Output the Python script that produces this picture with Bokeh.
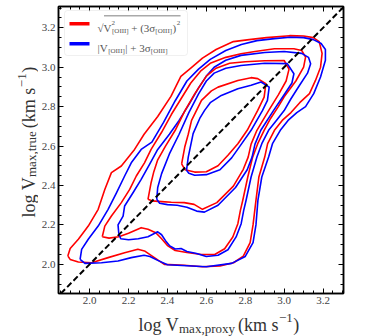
from math import pi
from bokeh.plotting import figure
from bokeh.layouts import row, column
from bokeh.models import (Range1d, FixedTicker, LinearAxis, Slope, Label, BoxAnnotation,
                          NumeralTickFormatter, CustomLabelingPolicy)
from bokeh.embed import file_html
from bokeh.resources import INLINE

# ---------------- data ----------------
major_ticks = [2.0, 2.2, 2.4, 2.6, 2.8, 3.0, 3.2]
tick_labels = ["2.0", "2.2", "2.4", "2.6", "2.8", "3.0", "3.2"]
minor_ticks = [1.85, 1.90, 1.95, 2.05, 2.10, 2.15, 2.25, 2.30, 2.35, 2.45, 2.50, 2.55,
               2.65, 2.70, 2.75, 2.85, 2.90, 2.95, 3.05, 3.10, 3.15, 3.25, 3.30]
x_limits = [1.840, 3.305]
y_limits = [1.852, 3.308]
one_to_one_gradient = 1.0
one_to_one_intercept = 0.0

# outer contour level
red_l1_x = [1.888, 1.900, 1.942, 1.993, 2.044, 2.078, 2.112, 2.163, 2.197, 2.231, 2.280, 2.350,
            2.418, 2.469, 2.520, 2.580, 2.650, 2.739, 2.820, 2.909, 3.028, 3.100, 3.150, 3.180,
            3.195, 3.187, 3.161, 3.130, 3.080, 3.035, 2.990, 2.950, 2.915, 2.900, 2.870, 2.855,
            2.840, 2.825, 2.790, 2.740, 2.670, 2.580, 2.486, 2.384, 2.333, 2.282, 2.248, 2.180,
            2.095, 2.010, 1.942, 1.900, 1.888]
red_l1_y = [2.042, 2.080, 2.127, 2.194, 2.279, 2.380, 2.465, 2.499, 2.541, 2.583, 2.660, 2.750,
            2.852, 2.953, 2.995, 3.046, 3.090, 3.130, 3.140, 3.150, 3.160, 3.158, 3.150, 3.130,
            3.070, 3.000, 2.933, 2.866, 2.820, 2.770, 2.730, 2.680, 2.612, 2.544, 2.443, 2.324,
            2.200, 2.110, 2.042, 2.008, 1.992, 1.988, 1.995, 2.000, 2.034, 2.068, 2.076, 2.059,
            2.034, 2.008, 2.012, 2.025, 2.042]
blue_l1_x = [1.951, 1.959, 1.993, 2.044, 2.095, 2.138, 2.180, 2.214, 2.265, 2.320, 2.380, 2.440,
             2.500, 2.560, 2.620, 2.700, 2.780, 2.860, 2.950, 3.030, 3.100, 3.150, 3.190, 3.212,
             3.212, 3.187, 3.152, 3.110, 3.065, 3.020, 2.980, 2.940, 2.920, 2.885, 2.865, 2.855,
             2.840, 2.800, 2.730, 2.600, 2.500, 2.400, 2.350, 2.310, 2.280, 2.214, 2.146, 2.061,
             1.976, 1.951]
blue_l1_y = [2.025, 2.076, 2.127, 2.194, 2.279, 2.363, 2.448, 2.515, 2.583, 2.620, 2.720, 2.830,
             2.930, 2.990, 3.040, 3.085, 3.115, 3.135, 3.145, 3.152, 3.150, 3.140, 3.120, 3.090,
             3.035, 2.950, 2.866, 2.800, 2.770, 2.730, 2.680, 2.612, 2.544, 2.443, 2.324, 2.200,
             2.110, 2.040, 2.005, 1.988, 1.993, 1.998, 2.020, 2.040, 2.046, 2.034, 2.017, 2.008,
             2.005, 2.025]

# second contour level
red_l2_x = [2.065, 2.078, 2.112, 2.163, 2.206, 2.240, 2.282, 2.316, 2.370, 2.420, 2.470, 2.520,
            2.570, 2.620, 2.700, 2.778, 2.850, 2.950, 3.050, 3.090, 3.110, 3.100, 3.060, 3.000,
            2.970, 2.930, 2.897, 2.864, 2.838, 2.813, 2.787, 2.775, 2.762, 2.736, 2.694, 2.643,
            2.575, 2.500, 2.440, 2.400, 2.370, 2.340, 2.300, 2.265, 2.200, 2.150, 2.100, 2.065]
red_l2_y = [2.140, 2.194, 2.245, 2.313, 2.380, 2.448, 2.515, 2.583, 2.670, 2.760, 2.840, 2.920,
            2.980, 3.020, 3.050, 3.068, 3.080, 3.094, 3.094, 3.085, 3.051, 3.000, 2.930, 2.850,
            2.800, 2.740, 2.680, 2.612, 2.544, 2.443, 2.324, 2.274, 2.206, 2.139, 2.079, 2.050,
            2.050, 2.060, 2.070, 2.095, 2.130, 2.160, 2.178, 2.186, 2.158, 2.140, 2.133, 2.140]
blue_l2_x = [2.150, 2.146, 2.172, 2.180, 2.223, 2.265, 2.308, 2.350, 2.410, 2.460, 2.510, 2.560,
             2.600, 2.640, 2.700, 2.778, 2.900, 3.000, 3.090, 3.125, 3.136, 3.120, 3.080, 3.035,
             3.000, 2.960, 2.920, 2.885, 2.860, 2.830, 2.804, 2.792, 2.779, 2.753, 2.711, 2.660,
             2.600, 2.550, 2.500, 2.470, 2.440, 2.410, 2.390, 2.370, 2.350, 2.300, 2.250, 2.200,
             2.160, 2.150]
blue_l2_y = [2.155, 2.200, 2.245, 2.296, 2.363, 2.431, 2.507, 2.583, 2.660, 2.730, 2.810, 2.895,
             2.955, 3.000, 3.035, 3.060, 3.075, 3.080, 3.070, 3.050, 3.018, 2.970, 2.910, 2.840,
             2.780, 2.730, 2.680, 2.612, 2.544, 2.443, 2.324, 2.274, 2.206, 2.139, 2.074, 2.046,
             2.040, 2.055, 2.065, 2.080, 2.078, 2.095, 2.120, 2.150, 2.165, 2.140, 2.130, 2.125,
             2.130, 2.155]

# third contour level
red_l3_x = [2.300, 2.316, 2.330, 2.350, 2.390, 2.440, 2.490, 2.540, 2.600, 2.650, 2.720, 2.800,
            2.900, 3.000, 3.025, 3.010, 2.970, 2.920, 2.860, 2.830, 2.815, 2.790, 2.739, 2.654,
            2.580, 2.537, 2.486, 2.420, 2.370, 2.320, 2.300]
red_l3_y = [2.330, 2.414, 2.470, 2.530, 2.600, 2.680, 2.780, 2.865, 2.955, 2.995, 3.020, 3.028,
            3.033, 3.034, 2.990, 2.930, 2.860, 2.780, 2.680, 2.610, 2.544, 2.482, 2.397, 2.313,
            2.279, 2.304, 2.313, 2.315, 2.318, 2.322, 2.330]
blue_l3_x = [2.345, 2.350, 2.370, 2.410, 2.460, 2.510, 2.560, 2.600, 2.640, 2.700, 2.778, 2.900,
             3.016, 3.050, 3.040, 3.000, 2.945, 2.880, 2.850, 2.835, 2.810, 2.750, 2.660, 2.590,
             2.550, 2.500, 2.450, 2.400, 2.360, 2.345]
blue_l3_y = [2.330, 2.390, 2.460, 2.560, 2.660, 2.770, 2.865, 2.930, 2.970, 2.995, 3.009, 3.020,
             3.018, 2.967, 2.920, 2.860, 2.780, 2.680, 2.610, 2.544, 2.480, 2.390, 2.300, 2.265,
             2.270, 2.290, 2.300, 2.303, 2.310, 2.330]

# innermost contour level
red_l4_x = [2.473, 2.489, 2.507, 2.524, 2.575, 2.626, 2.660, 2.762, 2.830, 2.864, 2.906, 2.897,
            2.864, 2.810, 2.762, 2.711, 2.660, 2.600, 2.540, 2.490, 2.473]
red_l4_y = [2.510, 2.595, 2.660, 2.730, 2.832, 2.880, 2.899, 2.933, 2.947, 2.942, 2.916, 2.848,
            2.781, 2.680, 2.612, 2.553, 2.500, 2.470, 2.468, 2.480, 2.510]
blue_l4_x = [2.498, 2.507, 2.532, 2.566, 2.591, 2.620, 2.677, 2.762, 2.830, 2.881, 2.923, 2.914,
             2.889, 2.830, 2.780, 2.730, 2.670, 2.600, 2.540, 2.510, 2.498]
blue_l4_y = [2.477, 2.544, 2.663, 2.740, 2.781, 2.820, 2.857, 2.891, 2.908, 2.925, 2.899, 2.832,
             2.781, 2.680, 2.610, 2.540, 2.480, 2.455, 2.452, 2.462, 2.477]

# ---------------- layout geometry (page pixels) ----------------
FONT = "Liberation Serif"
YLAB_W = 38                      # strip left of the main figure for the y label
TOTAL_H = 336
FRAME_LEFT, FRAME_TOP, FRAME_W, FRAME_H = 56, 6, 287, 287
FRAME_BOTTOM = FRAME_TOP + FRAME_H
MAIN_W = 315
MAIN_H = 308
XLAB_H = TOTAL_H - MAIN_H

p = figure(width=MAIN_W, height=MAIN_H, x_range=Range1d(*x_limits), y_range=Range1d(*y_limits),
           output_backend="svg", toolbar_location=None,
           min_border_left=FRAME_LEFT - YLAB_W,
           min_border_right=MAIN_W - (FRAME_LEFT - YLAB_W) - FRAME_W,
           min_border_top=FRAME_TOP, min_border_bottom=MAIN_H - FRAME_BOTTOM,
           background_fill_color="white", border_fill_color="white")
p.grid.visible = False
p.outline_line_color = "black"
p.outline_line_width = 1.5

p.add_layout(LinearAxis(), "above")
p.add_layout(LinearAxis(), "right")
overrides = {t: l for t, l in zip(major_ticks, tick_labels)}
for ax in p.axis:
    ax.ticker = FixedTicker(ticks=major_ticks, minor_ticks=minor_ticks)
    ax.formatter = NumeralTickFormatter(format="0.0")
    ax.major_label_overrides = overrides
    ax.major_tick_in = 5
    ax.major_tick_out = 0
    ax.minor_tick_in = 3
    ax.minor_tick_out = 0
    ax.major_tick_line_color = "black"
    ax.minor_tick_line_color = "black"
    ax.axis_line_color = "black"
    ax.axis_line_width = 1.5
    ax.major_label_text_font = FONT
    ax.major_label_text_font_size = "11px"
    ax.major_label_text_color = "#444444"
    ax.major_label_standoff = 3
for ax in (p.above[0], p.right[0]):
    ax.major_label_text_font_size = "1px"
    ax.major_label_standoff = 0
    ax.major_label_policy = CustomLabelingPolicy(
        code="for (const i of indices) { indices.unset(i) }\nreturn indices")

curves = [(red_l1_x, red_l1_y, "#ff0000"), (blue_l1_x, blue_l1_y, "#0000ff"),
          (red_l2_x, red_l2_y, "#ff0000"), (blue_l2_x, blue_l2_y, "#0000ff"),
          (red_l3_x, red_l3_y, "#ff0000"), (blue_l3_x, blue_l3_y, "#0000ff"),
          (red_l4_x, red_l4_y, "#ff0000"), (blue_l4_x, blue_l4_y, "#0000ff")]
for xs, ys, c in curves:
    p.line(xs, ys, line_color=c, line_width=1.6, line_join="round")

p.add_layout(Slope(gradient=one_to_one_gradient, y_intercept=one_to_one_intercept,
                   line_color="black", line_width=2, line_dash="6 3"))


def sbox(left, right, top, bottom, **kw):
    """box in page pixels -> main-frame-relative screen units"""
    return BoxAnnotation(left=left - FRAME_LEFT, right=right - FRAME_LEFT,
                         top=FRAME_BOTTOM - top, bottom=FRAME_BOTTOM - bottom,
                         left_units="screen", right_units="screen",
                         top_units="screen", bottom_units="screen", **kw)


# legend frame and sample lines
p.add_layout(sbox(62, 185, 10, 55, fill_color="white", fill_alpha=0.85,
                  line_color="#cccccc", line_width=1, border_radius=3))
p.add_layout(sbox(67, 87, 21.5, 25, fill_color="#ff0000", fill_alpha=1, line_color=None))
p.add_layout(sbox(67, 87, 41.5, 45, fill_color="#0000ff", fill_alpha=1, line_color=None))


def strip(width, height):
    f = figure(width=width, height=height, x_range=Range1d(0, 1), y_range=Range1d(0, 1),
               output_backend="svg", toolbar_location=None, min_border=0,
               x_axis_location=None, y_axis_location=None,
               background_fill_color="white", border_fill_color="white")
    f.outline_line_color = None
    f.grid.visible = False
    return f


ylab_fig = strip(YLAB_W, TOTAL_H)
xlab_fig = strip(MAIN_W, XLAB_H)

# ---------------- composite texts ----------------
W = {' ': .25, '(': .333, ')': .333, ',': .25, '1': .5, '2': .5, '3': .5, 'a': .444,
     'e': .444, 'g': .5, 'k': .5, 'l': .278, 'm': .778, 'o': .5, 'p': .5, 'r': .333,
     's': .389, 't': .278, 'u': .5, 'x': .5, 'y': .5, 'V': .722, '\u2212': .564,
     '[': .333, ']': .333, 'O': .722, 'I': .333, '|': .2, '+': .564, '\u03c3': .55,
     '\u221a': .55}


def tw(s, fs):
    return sum(W.get(ch, .5) for ch in s) * fs


def run(fig, org_left, org_bottom, pieces, px, py, color, vertical=False):
    """pieces: (text, size, baseline shift (+ = up), advance?, gap before); page pixels"""
    along = 0.0
    for text, fs, shift, adv, gap in pieces:
        along += gap
        if vertical:
            x = px - org_left - shift
            y = org_bottom - py + along
            ang = pi / 2
        else:
            x = px - org_left + along
            y = org_bottom - py + shift
            ang = 0
        fig.add_layout(Label(x=x, y=y, x_units="screen", y_units="screen", text=text,
                             angle=ang, text_font=FONT, text_font_size=f"{fs}px",
                             text_color=color, text_align="left",
                             text_baseline="alphabetic"))
        if adv:
            along += tw(text, fs)


AX = "#333333"
run(xlab_fig, YLAB_W, TOTAL_H,
    [("log V", 18, 0, True, 0), ("max,proxy", 13, -4, True, 0), ("(km s", 18, 0, True, 3),
     ("\u22121", 13, 7, True, 0.5), (")", 18, 0, True, 0.5)], 118, 324, AX)
run(ylab_fig, 0, TOTAL_H,
    [("log V", 18, 0, True, 0), ("max,true", 13, -3, True, 0), ("(km s", 18, 0, True, 3),
     ("\u22121", 13, 7, True, 0.5), (")", 18, 0, True, 0.5)], 28, 217, AX, vertical=True)

LG = "#555555"
run(p, FRAME_LEFT, FRAME_BOTTOM,
    [("\u221a", 11, 0, True, 0), ("V", 11, 0, True, 0), ("2", 7, 5, False, 0),
     ("[OIII]", 7, -3, True, 0.5), ("+ (3\u03c3", 11, 0, True, 2.5),
     ("[OIII]", 7, -3, True, 0), (")", 11, 0, True, 0.5), ("2", 7, 5, True, 0.5)], 95, 27, LG)
run(p, FRAME_LEFT, FRAME_BOTTOM,
    [("|V", 11, 0, True, 0), ("[OIII]", 7, -3, True, 0.5), ("| + 3\u03c3", 11, 0, True, 0.5),
     ("[OIII]", 7, -3, True, 0)], 95, 47, LG)
# overline of the square root
p.add_layout(sbox(101.5, 178, 15, 15.8, fill_color=LG, fill_alpha=1, line_color=None))

layout = row(ylab_fig, column(p, xlab_fig))
open("out.html", "w").write(file_html(layout, INLINE))
